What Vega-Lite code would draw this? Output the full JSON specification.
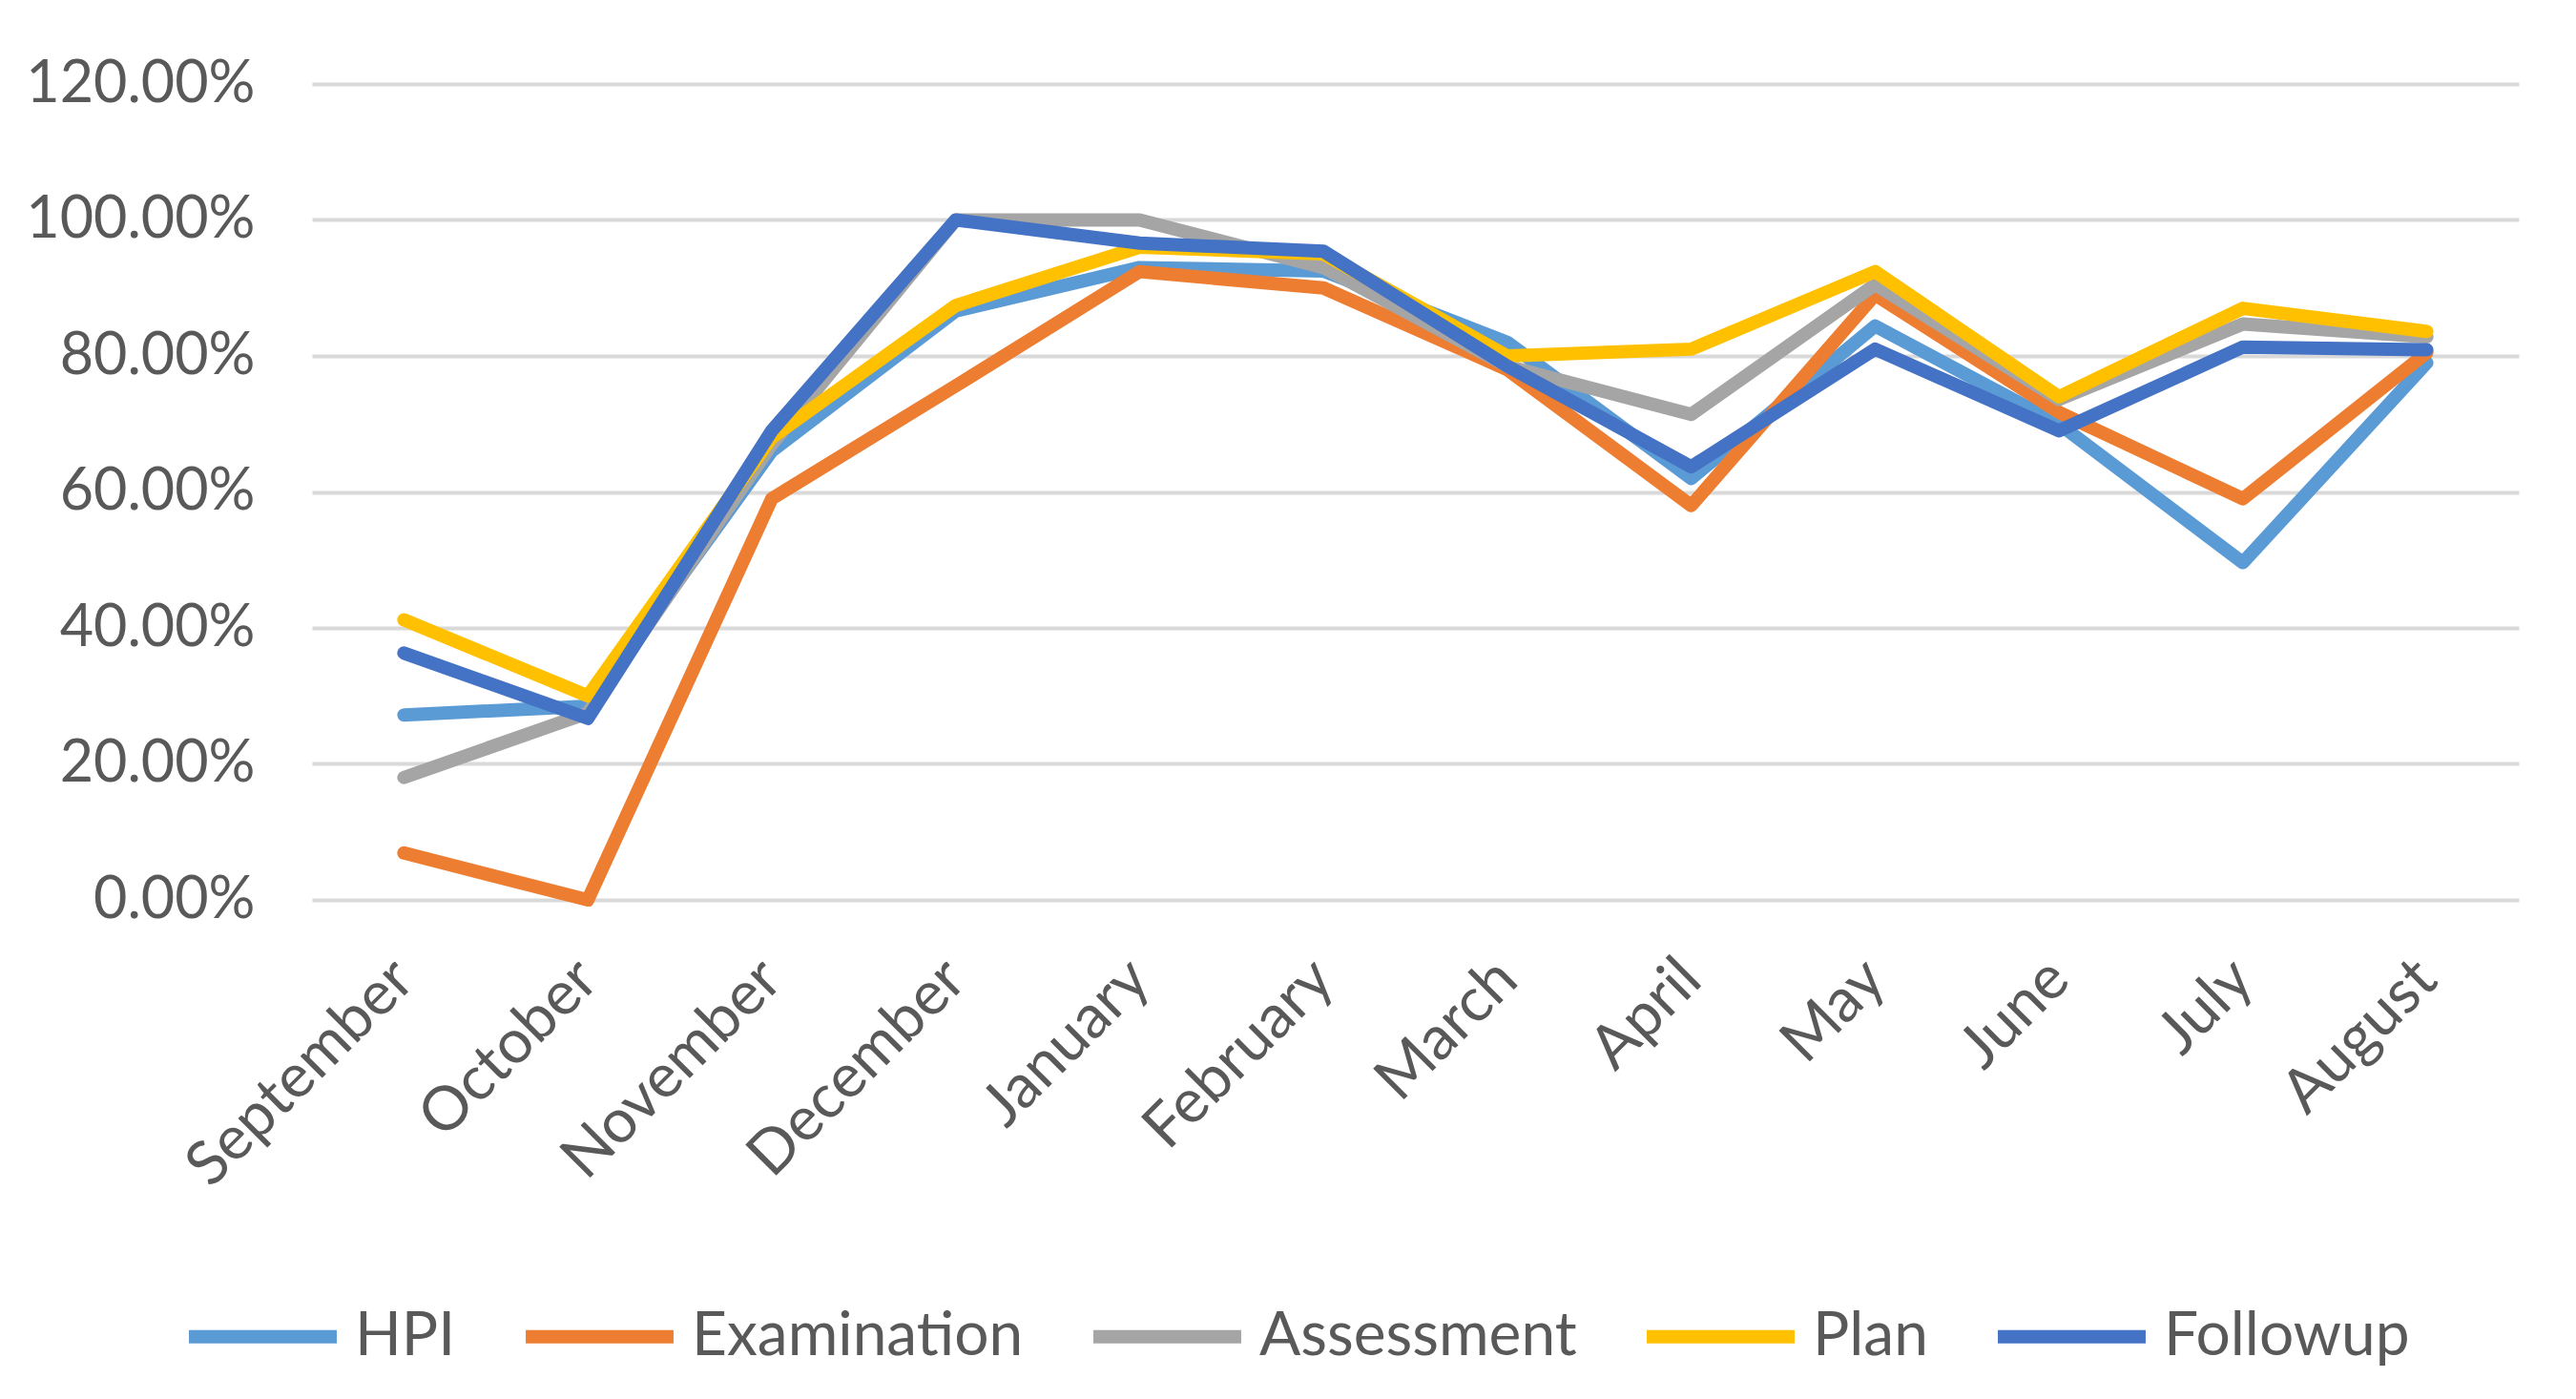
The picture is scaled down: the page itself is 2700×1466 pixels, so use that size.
{
  "$schema": "https://vega.github.io/schema/vega-lite/v6.json",
  "autosize": "none",
  "width": 2313,
  "height": 855,
  "padding": {"left": 327, "top": 88, "right": 60, "bottom": 523},
  "background": "white",
  "data": {
    "values": [
      {"month": "September", "series": "HPI", "value": 0.272},
      {"month": "October", "series": "HPI", "value": 0.285},
      {"month": "November", "series": "HPI", "value": 0.66},
      {"month": "December", "series": "HPI", "value": 0.866},
      {"month": "January", "series": "HPI", "value": 0.93},
      {"month": "February", "series": "HPI", "value": 0.925},
      {"month": "March", "series": "HPI", "value": 0.82},
      {"month": "April", "series": "HPI", "value": 0.62},
      {"month": "May", "series": "HPI", "value": 0.844},
      {"month": "June", "series": "HPI", "value": 0.70},
      {"month": "July", "series": "HPI", "value": 0.496},
      {"month": "August", "series": "HPI", "value": 0.79},
      {"month": "September", "series": "Examination", "value": 0.069},
      {"month": "October", "series": "Examination", "value": 0.0},
      {"month": "November", "series": "Examination", "value": 0.59},
      {"month": "December", "series": "Examination", "value": 0.756},
      {"month": "January", "series": "Examination", "value": 0.924},
      {"month": "February", "series": "Examination", "value": 0.90},
      {"month": "March", "series": "Examination", "value": 0.78},
      {"month": "April", "series": "Examination", "value": 0.58},
      {"month": "May", "series": "Examination", "value": 0.89},
      {"month": "June", "series": "Examination", "value": 0.717},
      {"month": "July", "series": "Examination", "value": 0.59},
      {"month": "August", "series": "Examination", "value": 0.805},
      {"month": "September", "series": "Assessment", "value": 0.18},
      {"month": "October", "series": "Assessment", "value": 0.275},
      {"month": "November", "series": "Assessment", "value": 0.67},
      {"month": "December", "series": "Assessment", "value": 1.0},
      {"month": "January", "series": "Assessment", "value": 1.0},
      {"month": "February", "series": "Assessment", "value": 0.93},
      {"month": "March", "series": "Assessment", "value": 0.785},
      {"month": "April", "series": "Assessment", "value": 0.714},
      {"month": "May", "series": "Assessment", "value": 0.905},
      {"month": "June", "series": "Assessment", "value": 0.736},
      {"month": "July", "series": "Assessment", "value": 0.847},
      {"month": "August", "series": "Assessment", "value": 0.828},
      {"month": "September", "series": "Plan", "value": 0.412},
      {"month": "October", "series": "Plan", "value": 0.30},
      {"month": "November", "series": "Plan", "value": 0.68},
      {"month": "December", "series": "Plan", "value": 0.874},
      {"month": "January", "series": "Plan", "value": 0.96},
      {"month": "February", "series": "Plan", "value": 0.95},
      {"month": "March", "series": "Plan", "value": 0.80},
      {"month": "April", "series": "Plan", "value": 0.81},
      {"month": "May", "series": "Plan", "value": 0.924},
      {"month": "June", "series": "Plan", "value": 0.74},
      {"month": "July", "series": "Plan", "value": 0.87},
      {"month": "August", "series": "Plan", "value": 0.836},
      {"month": "September", "series": "Followup", "value": 0.363},
      {"month": "October", "series": "Followup", "value": 0.267},
      {"month": "November", "series": "Followup", "value": 0.69},
      {"month": "December", "series": "Followup", "value": 1.0},
      {"month": "January", "series": "Followup", "value": 0.966},
      {"month": "February", "series": "Followup", "value": 0.954},
      {"month": "March", "series": "Followup", "value": 0.785},
      {"month": "April", "series": "Followup", "value": 0.637},
      {"month": "May", "series": "Followup", "value": 0.81},
      {"month": "June", "series": "Followup", "value": 0.69},
      {"month": "July", "series": "Followup", "value": 0.813},
      {"month": "August", "series": "Followup", "value": 0.809}
    ]
  },
  "mark": {"type": "line", "strokeWidth": 14, "strokeCap": "round", "strokeJoin": "round"},
  "encoding": {
    "x": {
      "field": "month",
      "type": "nominal",
      "sort": null,
      "scale": {"type": "point", "padding": 0.5},
      "axis": {
        "title": null,
        "domain": false,
        "ticks": false,
        "grid": false,
        "labelAngle": -45,
        "labelAlign": "right",
        "labelBaseline": "middle",
        "labelPadding": 73,
        "labelLimit": 1000,
        "labelFont": "Lato",
        "labelFontSize": 64,
        "labelColor": "#595959"
      }
    },
    "y": {
      "field": "value",
      "type": "quantitative",
      "scale": {"domain": [0, 1.2]},
      "axis": {
        "title": null,
        "values": [0, 0.2, 0.4, 0.6, 0.8, 1.0, 1.2],
        "format": ".2%",
        "domain": false,
        "ticks": false,
        "labelPadding": 60,
        "labelLimit": 1000,
        "labelFont": "Lato",
        "labelFontSize": 61,
        "labelColor": "#595959",
        "gridColor": "#D9D9D9",
        "gridWidth": 4
      }
    },
    "color": {
      "field": "series",
      "type": "nominal",
      "sort": ["HPI", "Examination", "Assessment", "Plan", "Followup"],
      "scale": {
        "domain": ["HPI", "Examination", "Assessment", "Plan", "Followup"],
        "range": ["#5B9BD5", "#ED7D31", "#A5A5A5", "#FFC000", "#4472C4"]
      },
      "legend": {
        "title": null,
        "orient": "none",
        "direction": "horizontal",
        "columns": 5,
        "legendX": -136,
        "legendY": 1228,
        "padding": 0,
        "symbolType": "stroke",
        "symbolSize": 24000,
        "symbolStrokeWidth": 14,
        "labelOffset": 12,
        "columnPadding": 45,
        "labelFont": "Lato",
        "labelFontSize": 64,
        "labelColor": "#595959",
        "labelLimit": 1000
      }
    }
  },
  "config": {
    "view": {"stroke": null},
    "font": "Lato"
  }
}
